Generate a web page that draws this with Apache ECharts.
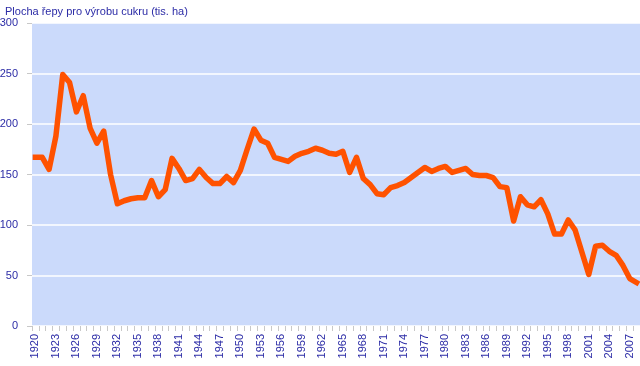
<!DOCTYPE html>
<html>
<head>
<meta charset="utf-8">
<script src="https://cdn.jsdelivr.net/npm/echarts@6/dist/echarts.min.js"></script>
<style>
html,body{margin:0;padding:0;background:#fff;}
#c{width:640px;height:366px;}
</style>
</head>
<body>
<div id="c"></div>
<script>
var title = 'Plocha řepy pro výrobu cukru (tis. ha)';
var years = [];
for (var y = 1920; y <= 2008; y++) years.push(String(y));
var area = [
  167, 167, 155, 188, 249, 241, 212, 228, 196, 181,   // 1920-1929
  193, 150, 121, 124, 126, 127, 127, 144, 128, 135,   // 1930-1939
  166, 156, 144, 146, 155, 147, 141, 141, 148, 142,   // 1940-1949
  154, 175, 195, 184, 181, 167, 165, 163, 168, 171,   // 1950-1959
  173, 176, 174, 171, 170, 173, 152, 167, 146, 140,   // 1960-1969
  131, 130, 137, 139, 142, 147, 152, 157, 153, 156,   // 1970-1979
  158, 152, 154, 156, 150, 149, 149, 147, 138, 137,   // 1980-1989
  104, 128, 120, 118, 125, 111, 91, 91, 105, 95,      // 1990-1999
  73, 51, 79, 80, 74, 70, 60, 47, 43                  // 2000-2008
];
var yTicks = [0, 50, 100, 150, 200, 250, 300];

var textColor = '#2b2ba6';
var chart = echarts.init(document.getElementById('c'), null, {renderer: 'canvas'});
chart.setOption({
  animation: false,
  backgroundColor: '#ffffff',
  title: {
    text: title, left: 0, top: 1,
    textStyle: {fontFamily: 'Liberation Sans, Arial, sans-serif', fontSize: 11, fontWeight: 'normal', color: textColor}
  },
  grid: {left: 32, right: 0, top: 23, bottom: 40, containLabel: false, outerBoundsMode: 'none',
         show: true, backgroundColor: '#cbdafb', borderWidth: 0},
  xAxis: {
    type: 'category',
    data: years,
    boundaryGap: true,
    axisLine: {show: false},
    axisTick: {show: true, interval: 0, length: 5, lineStyle: {color: '#c8c8c8', width: 1}},
    axisLabel: {
      interval: 2, rotate: 90, margin: 8,
      fontFamily: 'Liberation Sans, Arial, sans-serif', fontSize: 11, color: textColor
    },
    splitLine: {show: false}
  },
  yAxis: {
    type: 'value',
    min: yTicks[0], max: yTicks[yTicks.length - 1], interval: 50,
    axisLine: {show: false},
    axisTick: {show: true, length: 5, lineStyle: {color: '#c8c8c8', width: 1}},
    axisLabel: {margin: 14, fontFamily: 'Liberation Sans, Arial, sans-serif', fontSize: 11, color: textColor},
    splitLine: {show: true, lineStyle: {color: '#ffffff', width: 1.5}}
  },
  series: [{
    type: 'line',
    data: area,
    symbol: 'none',
    smooth: false,
    lineStyle: {color: '#ff5200', width: 5.5, join: 'round', cap: 'square'},
    itemStyle: {color: '#ff5200'}
  }]
});
</script>
</body>
</html>
